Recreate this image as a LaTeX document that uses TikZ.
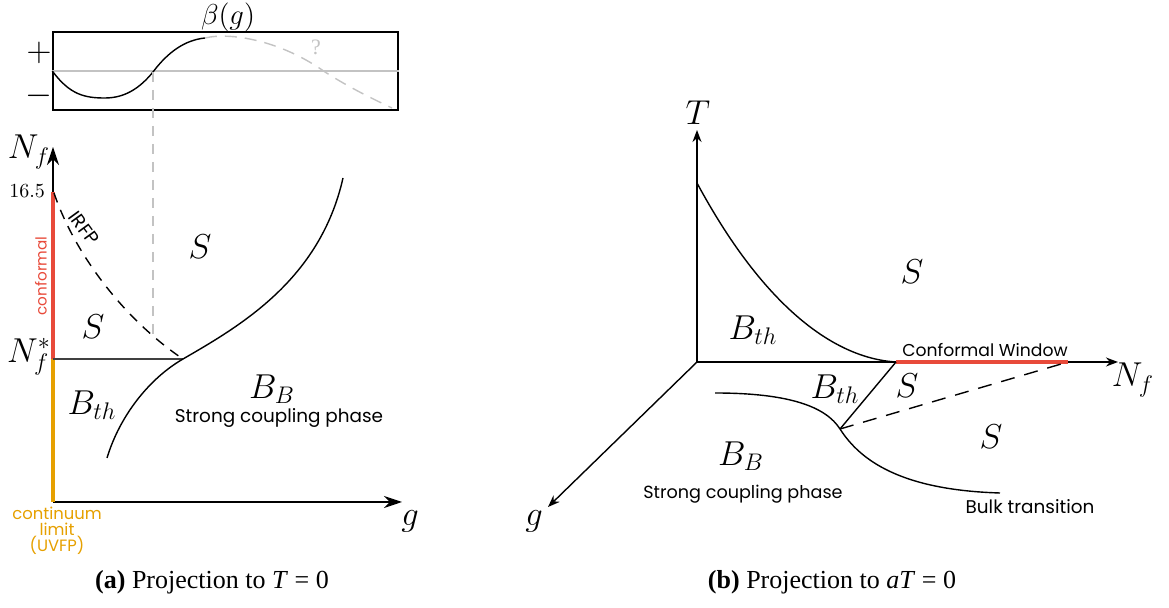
\documentclass[tikz,border=0pt]{standalone}
\usepackage{fontspec}
\setmainfont{Liberation Serif}
\newfontfamily\qsans{Poppins}
\usetikzlibrary{arrows.meta}
\definecolor{cred}{RGB}{232,74,58}
\definecolor{corange}{RGB}{230,160,0}
\definecolor{lgray}{RGB}{195,195,195}
\tikzset{
  mlab/.style={font=\fontsize{17}{17}\selectfont},
  slab/.style={font=\qsans\fontsize{8.8}{9}\selectfont},
  captext/.style={font=\fontsize{13}{14}\selectfont},
  curve/.style={line width=0.7pt},
  axisL/.style={line width=0.7pt,-{Stealth[length=9pt,width=6pt]}},
  axisR/.style={line width=0.7pt,-{Stealth[length=6pt,width=4.5pt]}},
}
\begin{document}
\begin{tikzpicture}[x=0.5pt,y=-0.5pt]
\useasboundingbox (0,0) rectangle (1169,608);
% ---------- beta box ----------
\node[draw,line width=0.7pt,minimum width=172.5pt,minimum height=39pt,inner sep=0pt] (box) at (225.5,71) {};
\draw[lgray,line width=0.6pt] (box.west) -- (box.east);
\draw[curve] (box.west) .. controls (70,95) and (85,98) .. (105,98)
  .. controls (125,98) and (140,88) .. (153,72) coordinate (zero)
  .. controls (168,52) and (185,40) .. (205,38) coordinate (bend);
\draw[lgray,dashed,dash pattern=on 6pt off 4pt,line width=0.7pt] (bend) .. controls (230,32) and (280,40) .. (325,72)
  .. controls (350,88) and (375,100) .. (392,108);
\node[text=lgray,font=\fontsize{11}{11}\selectfont] (q) at (316,47) {?};
\node[mlab] (plus) at (39,53) {$+$};
\node[mlab] (minus) at (39,96) {$-$};
\node[font=\fontsize{15}{15}\selectfont,inner sep=0pt,anchor=base] (beta) at (228,25) {$\beta(g)$};
% ---------- left phase diagram ----------
\coordinate (O1) at (53,502);
\coordinate (top16) at (53,192);
\coordinate (nstar) at (53,359);
\coordinate (cross) at (183,359);
\draw[lgray,dashed,dash pattern=on 5pt off 4pt,line width=0.6pt] (zero) -- (153,334) coordinate (vend);
\draw[axisL] (O1) -- (53,147) coordinate (ytip);
\draw[axisL] (O1) -- (402,502) coordinate (xtip);
\draw[cred,line width=1.8pt] (top16) -- (nstar);
\draw[corange,line width=1.8pt] (nstar) -- (O1);
\draw[black!75,line width=0.7pt] (nstar) -- (cross);
\draw[curve,dashed,dash pattern=on 5pt off 4pt] (54,193) .. controls (75,255) and (125,320) .. (cross);
\node[inner sep=0.5pt,rotate=-54,font=\qsans\fontsize{9.4}{9}\selectfont] (irfp) at (84,228) {IRFP};
\draw[curve] (107,458) .. controls (120,415) and (150,378) .. (cross)
  .. controls (240,326) and (320,280) .. (343,178);
\node[mlab] (Nf) at (29,152) {$N_f$};
\node[font=\fontsize{10}{10}\selectfont,anchor=east] (l165) at (52,191) {$16.5$};
\node[mlab] (Nstar) at (29,357) {$N_f^*$};
\node[text=cred,rotate=90,font=\qsans\fontsize{7.6}{9}\selectfont] (conf) at (41,276) {conformal};
\node[mlab] (S1) at (200,247) {$S$};
\node[mlab] (S2) at (93,327) {$S$};
\node[mlab] (Bth1) at (92,405) {$B_{th}$};
\node[mlab] (BB1) at (272,389) {$B_B$};
\node[font=\qsans\fontsize{9.2}{9}\selectfont] (scp1) at (279,418) {Strong coupling phase};
\node[mlab] (g1) at (410,521) {$g$};
\node[text=corange,align=center,font=\qsans\fontsize{8.2}{8}\selectfont] (cl) at (57,531) {continuum\\limit\\(UVFP)};
\node[captext] (capa) at (212,582) {\textbf{(a)} Projection to \textit{T} = 0};
% ---------- right phase diagram ----------
\coordinate (O2) at (697,362);
\coordinate (cw1) at (896,362);
\coordinate (cw2) at (1068,362);
\coordinate (tri) at (840,429);
\draw[axisR] (O2) -- (697,130) coordinate (Ttip);
\draw[axisR] (O2) -- (1118,362) coordinate (Ntip);
\draw[axisR] (O2) -- (548,507) coordinate (gtip);
\draw[curve] (697,183) .. controls (760,300) and (830,358) .. (cw1);
\draw[cred,line width=1.8pt] (cw1) -- (cw2);
\draw[curve] (cw1) -- (tri);
\draw[curve,dashed,dash pattern=on 7pt off 5pt] (tri) -- (cw2);
\draw[curve] (715,393) .. controls (790,393) and (826,407) .. (tri)
  .. controls (860,460) and (900,490) .. (1000,493);
\node[mlab] (T) at (698,113) {$T$};
\node[mlab] (Nf2) at (1133,380) {$N_f$};
\node[mlab] (g2) at (534,521) {$g$};
\node[slab,font=\qsans\fontsize{8.6}{9}\selectfont] (cwl) at (985,350) {Conformal Window};
\node[mlab] (Bth2) at (753,330) {$B_{th}$};
\node[mlab] (Bth3) at (835,389) {$B_{th}$};
\node[mlab] (S3) at (912,272) {$S$};
\node[mlab] (S4) at (907,386) {$S$};
\node[mlab] (S5) at (991,437) {$S$};
\node[mlab] (BB2) at (741,456) {$B_B$};
\node[slab] (scp2) at (743,494) {Strong coupling phase};
\node[slab,font=\qsans\fontsize{9.2}{9}\selectfont] (bulk) at (1030,507) {Bulk transition};
\node[captext] (capb) at (832,582) {\textbf{(b)} Projection to \textit{aT} = 0};
\end{tikzpicture}
\end{document}
